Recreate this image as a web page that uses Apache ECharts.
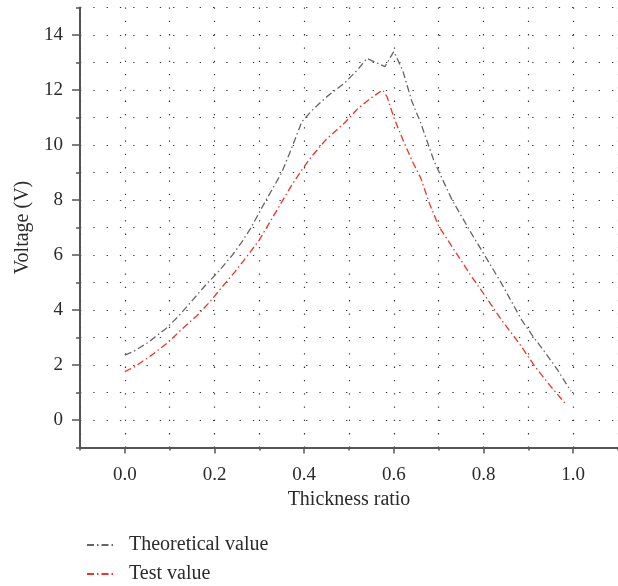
<!DOCTYPE html>
<html>
<head>
<meta charset="utf-8">
<script src="https://cdn.jsdelivr.net/npm/echarts@6/dist/echarts.min.js"></script>
<style>html,body{margin:0;padding:0;background:#fff}#c{width:618px;height:586px}</style>
</head>
<body>
<div id="c"></div>
<script>
// Data
const seriesNames = ['Theoretical value', 'Test value'];
const theoreticalX = [0, 0.02, 0.05, 0.09, 0.12, 0.15, 0.18, 0.21, 0.24, 0.26, 0.28, 0.31, 0.35, 0.37, 0.395, 0.42, 0.45, 0.49, 0.52, 0.54, 0.56, 0.58, 0.6, 0.62, 0.64, 0.66, 0.69, 0.73, 0.775, 0.8, 0.84, 0.885, 0.91, 0.94, 0.965, 0.995];
const theoreticalY = [2.36, 2.5, 2.8, 3.3, 3.78, 4.34, 4.9, 5.42, 6.0, 6.45, 6.95, 7.85, 9.0, 9.8, 10.85, 11.3, 11.75, 12.25, 12.75, 13.15, 13.0, 12.85, 13.4, 12.7, 11.6, 10.8, 9.4, 8.0, 6.73, 6.06, 4.97, 3.64, 3.05, 2.4, 1.82, 1.05];
const testX = [0, 0.02, 0.06, 0.095, 0.125, 0.16, 0.19, 0.215, 0.245, 0.27, 0.3, 0.34, 0.37, 0.395, 0.415, 0.45, 0.49, 0.52, 0.55, 0.575, 0.585, 0.6, 0.62, 0.64, 0.66, 0.68, 0.7, 0.74, 0.77, 0.8, 0.84, 0.88, 0.915, 0.95, 0.985];
const testY = [1.76, 1.92, 2.36, 2.8, 3.27, 3.78, 4.3, 4.8, 5.38, 5.9, 6.55, 7.65, 8.48, 9.1, 9.55, 10.22, 10.8, 11.33, 11.72, 12.0, 11.75, 11.0, 10.2, 9.45, 8.8, 7.85, 7.05, 6.05, 5.3, 4.6, 3.64, 2.78, 1.94, 1.22, 0.55];
const xTickLabels = [0, 0.2, 0.4, 0.6, 0.8, 1.0];
const yTickLabels = [0, 2, 4, 6, 8, 10, 12, 14];

const serif = 'Liberation Serif';
const axisColor = '#555';
const textColor = '#2b2b2b';
const dotLine = {show: true, lineStyle: {color: '#333', width: 1.2, type: [1.3, 12]}};

const chart = echarts.init(document.getElementById('c'), null, {renderer: 'canvas'});
const pairs = (xs, ys) => xs.map((x, i) => [x, ys[i]]);

chart.setOption({
  animation: false,
  backgroundColor: '#fff',
  grid: {left: 80, top: 7.5, width: 545, height: 440, containLabel: false},
  legend: {
    orient: 'vertical', left: 86, top: 535, padding: 0, itemWidth: 27, itemHeight: 14, itemGap: 9,
    itemStyle: {opacity: 0},
    textStyle: {fontFamily: serif, fontSize: 20, color: textColor, padding: [0, 0, 0, 10]},
    data: seriesNames
  },
  xAxis: [{
    type: 'value', min: -0.1, max: 1.1, interval: 0.1,
    name: 'Thickness ratio', nameLocation: 'middle', nameGap: 41,
    nameTextStyle: {fontFamily: serif, fontSize: 20, color: textColor},
    axisLine: {show: true, onZero: false, lineStyle: {color: axisColor, width: 2}},
    axisTick: {show: true, length: 3, lineStyle: {color: axisColor, width: 1.5}},
    axisLabel: {show: true, customValues: xTickLabels, margin: 18, fontFamily: serif, fontSize: 19, color: textColor,
      formatter: v => v.toFixed(1)},
    splitLine: dotLine
  }, {
    type: 'value', min: -0.1, max: 1.1, position: 'bottom', gridIndex: 0,
    axisLine: {show: false, onZero: false}, axisLabel: {show: false}, splitLine: {show: false},
    axisTick: {show: true, length: 6, customValues: xTickLabels, lineStyle: {color: axisColor, width: 1.5}}
  }],
  yAxis: [{
    type: 'value', min: -1, max: 15, interval: 1,
    name: 'Voltage (V)', nameLocation: 'middle', nameGap: 43,
    nameTextStyle: {fontFamily: serif, fontSize: 20, color: textColor},
    axisLine: {show: true, onZero: false, lineStyle: {color: axisColor, width: 2}},
    axisTick: {show: true, length: 4, lineStyle: {color: axisColor, width: 1.5}},
    axisLabel: {show: true, customValues: yTickLabels, margin: 17, fontFamily: serif, fontSize: 19, color: textColor},
    splitLine: dotLine
  }, {
    type: 'value', min: -1, max: 15, position: 'left', gridIndex: 0,
    axisLine: {show: false, onZero: false}, axisLabel: {show: false}, splitLine: {show: false},
    axisTick: {show: true, length: 8, customValues: yTickLabels, lineStyle: {color: axisColor, width: 1.5}}
  }],
  series: [{
    name: seriesNames[0], type: 'line', symbol: 'none', smooth: false,
    data: pairs(theoreticalX, theoreticalY),
    itemStyle: {color: '#666'},
    lineStyle: {color: '#666', width: 1.3, type: [7, 3, 1.5, 3]}
  }, {
    name: seriesNames[1], type: 'line', symbol: 'none', smooth: false,
    data: pairs(testX, testY),
    itemStyle: {color: '#ee3326'},
    lineStyle: {color: '#ee3326', width: 1.3, type: [7, 3, 1.5, 3]}
  }]
});
</script>
</body>
</html>
